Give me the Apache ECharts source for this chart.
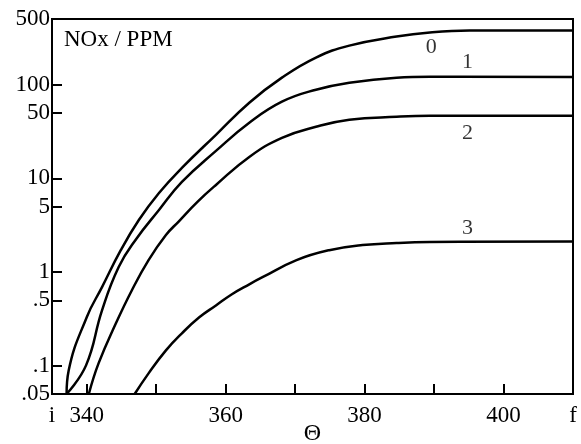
<!DOCTYPE html>
<html>
<head>
<meta charset="utf-8">
<script src="https://cdn.jsdelivr.net/npm/echarts@6/dist/echarts.min.js"></script>
<style>
html,body{margin:0;padding:0;background:#fff;}
#c{width:581px;height:444px;}
</style>
</head>
<body>
<div id="c"></div>
<script>
// Curve data: [theta, NOx ppm]
const curve0 = [[337.1,0.05],[337.4,0.089],[340.0,0.33],[342.2,0.69],[344.9,1.71],[347.5,3.59],[350.4,6.97],[353.7,12.9],[358.6,29.1],[363.4,64.0],[368.1,118.4],[373.0,193.9],[377.8,260],[384.6,325],[389.4,359],[395.1,376],[410,377]];
const curve1 = [[337.1,0.05],[339.9,0.101],[342.2,0.39],[344.6,1.13],[347.1,2.24],[350.4,4.59],[353.7,9.14],[358.6,19.6],[363.4,39.1],[368.1,65.6],[373.0,88.1],[377.8,104.7],[384.6,118.4],[389.4,121],[410,120]];
const curve2 = [[340.3,0.05],[341.7,0.106],[344.2,0.284],[346.5,0.64],[348.9,1.34],[351.4,2.48],[353.3,3.5],[355.9,5.58],[358.6,8.49],[363.4,16.9],[368.1,27.0],[373.0,35.4],[377.8,42.1],[384.6,45.3],[389.4,46.4],[410,46.4]];
const curve3 = [[346.9,0.05],[348.9,0.083],[351.4,0.146],[353.7,0.222],[356.2,0.329],[358.6,0.44],[360.9,0.58],[363.4,0.74],[365.3,0.88],[370.2,1.34],[374.9,1.71],[379.7,1.94],[384.6,2.04],[389.4,2.09],[410,2.12]];
const curveNames = ['0','1','2','3'];
const curveLabelX = [389.6, 394.8, 394.8, 394.8];
const curveLabelY = [248, 171, 30.5, 2.95];
const xLabelValues = [335, 340, 360, 380, 400, 410];
const xTickValues = [340, 350, 360, 370, 380, 390, 400];
const yLabelValues = [0.05, 0.1, 0.5, 1, 5, 10, 50, 100, 500];
const yTickValues = [0.1, 0.5, 1, 5, 10, 50, 100];
const yTitle = 'NOx / PPM';
const xTitle = 'Θ';

const FONT = '"Liberation Serif", "DejaVu Serif", serif';
const chart = echarts.init(document.getElementById('c'), null, {renderer:'canvas'});
const curves = [curve0, curve1, curve2, curve3];
const lineSeries = curves.map((d, i) => ({
  type: 'line', data: d, showSymbol: false, symbol: 'none',
  smooth: 0.45, sampling: null,
  lineStyle: {color: '#000', width: 2.5}, z: 3, silent: true
}));
const labelSeries = {
  type: 'scatter', symbolSize: 0, silent: true,
  data: curveNames.map((n, i) => ({name: n, value: [curveLabelX[i], curveLabelY[i]]})),
  label: {show: true, position: 'inside', formatter: p => p.name, color: '#000', fontFamily: FONT, fontSize: 22}
};
chart.setOption({
  animation: false,
  backgroundColor: '#fff',
  grid: {left: 52, top: 19, width: 521, height: 375, outerBoundsMode: 'none', containLabel: false,
    show: true, borderColor: '#000', borderWidth: 2, backgroundColor: 'transparent'},
  graphic: [{type: 'text', left: 64, top: 28, style: {text: yTitle, fill: '#000', font: '23px ' + FONT}}],
  xAxis: {
    type: 'value', min: 335, max: 410,
    name: xTitle, nameLocation: 'middle', nameGap: 28, nameMoveOverlap: false,
    nameTextStyle: {color: '#000', fontFamily: FONT, fontSize: 24},
    axisLine: {show: true, lineStyle: {color: '#000', width: 2}},
    axisTick: {show: true, inside: true, length: 10, lineStyle: {color: '#000', width: 2}, customValues: xTickValues},
    axisLabel: {show: true, color: '#000', fontFamily: FONT, fontSize: 23, margin: 10, customValues: xLabelValues,
      formatter: v => v === 335 ? 'i' : (v === 410 ? 'f' : String(v))},
    splitLine: {show: false}
  },
  yAxis: {
    type: 'log', logBase: 10, min: 0.05, max: 500,
    axisLine: {show: true, lineStyle: {color: '#000', width: 2}},
    axisTick: {show: true, inside: true, length: 10, lineStyle: {color: '#000', width: 2}, customValues: yTickValues},
    axisLabel: {show: true, color: '#000', fontFamily: FONT, fontSize: 23, margin: 2, customValues: yLabelValues,
      formatter: v => { const s = String(+v.toPrecision(6)); return v < 1 ? s.replace(/^0/, '') : s; }},
    splitLine: {show: false}
  },
  series: lineSeries.concat([labelSeries])
});
</script>
</body>
</html>
